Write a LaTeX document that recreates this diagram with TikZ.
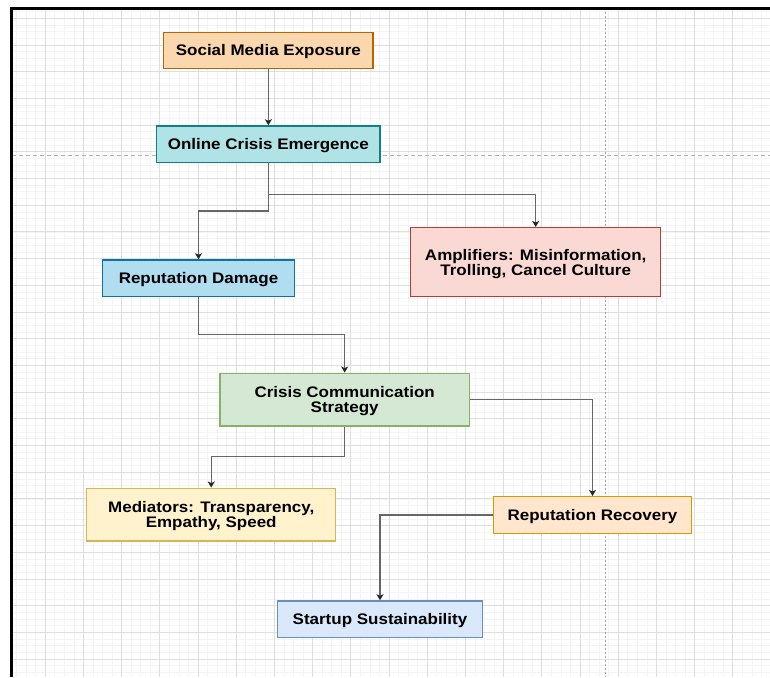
\documentclass[tikz,border=0pt]{standalone}
\usepackage{fontspec}
\setmainfont{Liberation Sans}[FakeStretch=1.11]
\usetikzlibrary{arrows.meta}
\definecolor{smeF}{HTML}{FAD7AC}\definecolor{smeD}{HTML}{B46504}
\definecolor{oceF}{HTML}{B0E3E6}\definecolor{oceD}{HTML}{0E8088}
\definecolor{rdF}{HTML}{B1DDF0}\definecolor{rdD}{HTML}{10739E}
\definecolor{ampF}{HTML}{FAD9D5}\definecolor{ampD}{HTML}{AE4132}
\definecolor{ccsF}{HTML}{D5E8D4}\definecolor{ccsD}{HTML}{82B366}
\definecolor{medF}{HTML}{FFF2CC}\definecolor{medD}{HTML}{D6B656}
\definecolor{rrF}{HTML}{FFE6CC}\definecolor{rrD}{HTML}{D79B00}
\definecolor{ssF}{HTML}{DAE8FC}\definecolor{ssD}{HTML}{6C8EBF}
\definecolor{gridminor}{HTML}{F4F4F4}
\definecolor{gridmajor}{HTML}{DEDEDE}
\definecolor{conn}{HTML}{666666}
\tikzset{
  box/.style={rectangle, line width=1.5pt, align=center, inner sep=0pt,
    font=\fontsize{15.3}{15}\selectfont\bfseries},
  oneline/.style={text height=11pt, text depth=0pt},
  twoline/.style={text depth=0pt},
  arr/.style={draw=conn, line width=1.1pt, -{Stealth[length=6pt,width=7pt,inset=1.5pt,color=black!85]}},
}
\begin{document}
\begin{tikzpicture}[x=1pt,y=-1pt]
\useasboundingbox (0,0) rectangle (770,677);
\fill[white] (0,0) rectangle (770,677);
% minor grid
\foreach \i in {1,...,80} {
  \draw[gridminor, line width=0.7pt] ({7+9.55*\i},8) -- ({7+9.55*\i},677);
}
\foreach \j in {0,...,100} {
  \draw[gridminor, line width=0.7pt] (12,{11.6+6.675*\j}) -- (770,{11.6+6.675*\j});
}
% major grid
\foreach \i in {1,...,20} {
  \draw[gridmajor, line width=0.9pt] ({7+38.2*\i},8) -- ({7+38.2*\i},677);
}
\foreach \j in {0,...,24} {
  \draw[gridmajor, line width=0.9pt] (12,{18.3+26.7*\j}) -- (770,{18.3+26.7*\j});
}
% page break lines
\draw[gray!70, line width=0.8pt, dash pattern=on 2pt off 2pt] (605.7,8) -- (605.7,677);
\draw[gray!60, line width=0.8pt, dash pattern=on 4pt off 3pt] (12,155.7) -- (770,155.7);
% frame
\draw[black, line width=2.5pt] (11.3,677) -- (11.3,8.3) -- (770,8.3);

% nodes
\node[box, oneline, fill=smeF, draw=smeD, minimum width=209.4pt, minimum height=36.4pt] (sme) at (268.35,50.5) {Social Media Exposure};
\node[box, oneline, fill=oceF, draw=oceD, minimum width=223.3pt, minimum height=36.3pt] (oce) at (268.35,144.15) {Online Crisis Emergence};
\node[box, oneline, fill=rdF, draw=rdD, minimum width=192.4pt, minimum height=36.7pt] (rd) at (198.5,278.35) {Reputation Damage};
\node[box, twoline, fill=ampF, draw=ampD, minimum width=250pt, minimum height=69pt] (amp) at (535.7,262.2) {Amplifiers: Misinformation,\\Trolling, Cancel Culture};
\node[box, twoline, fill=ccsF, draw=ccsD, minimum width=249.3pt, minimum height=52.7pt] (ccs) at (344.65,399.65) {Crisis Communication\\Strategy};
\node[box, twoline, fill=medF, draw=medD, minimum width=249pt, minimum height=52.7pt] (med) at (211.2,514.65) {Mediators: Transparency,\\Empathy, Speed};
\node[box, oneline, fill=rrF, draw=rrD, minimum width=198.4pt, minimum height=36.6pt] (rr) at (592.5,515) {Reputation Recovery};
\node[box, oneline, fill=ssF, draw=ssD, minimum width=205.4pt, minimum height=36.7pt] (ss) at (380,619.35) {Startup Sustainability};

% junction coordinates
\coordinate (y1) at (0,211);
\coordinate (j2) at (268.35,194.3);
\coordinate (y3) at (0,334.3);
\coordinate (y4) at (0,456.7);

% connectors
\draw[arr] (sme.south) -- (oce.north);
\draw[arr] (oce.south) -- (oce.south |- y1) -| (rd.north);
\draw[arr] (j2) -| (amp.north);
\draw[arr] (rd.south) -- (rd.south |- y3) -| (ccs.north);
\draw[arr] (ccs.south) -- (ccs.south |- y4) -| (med.north);
\draw[arr] (ccs.east) -| (rr.north);
\draw[arr] (rr.west) -| (ss.north);
\end{tikzpicture}
\end{document}
